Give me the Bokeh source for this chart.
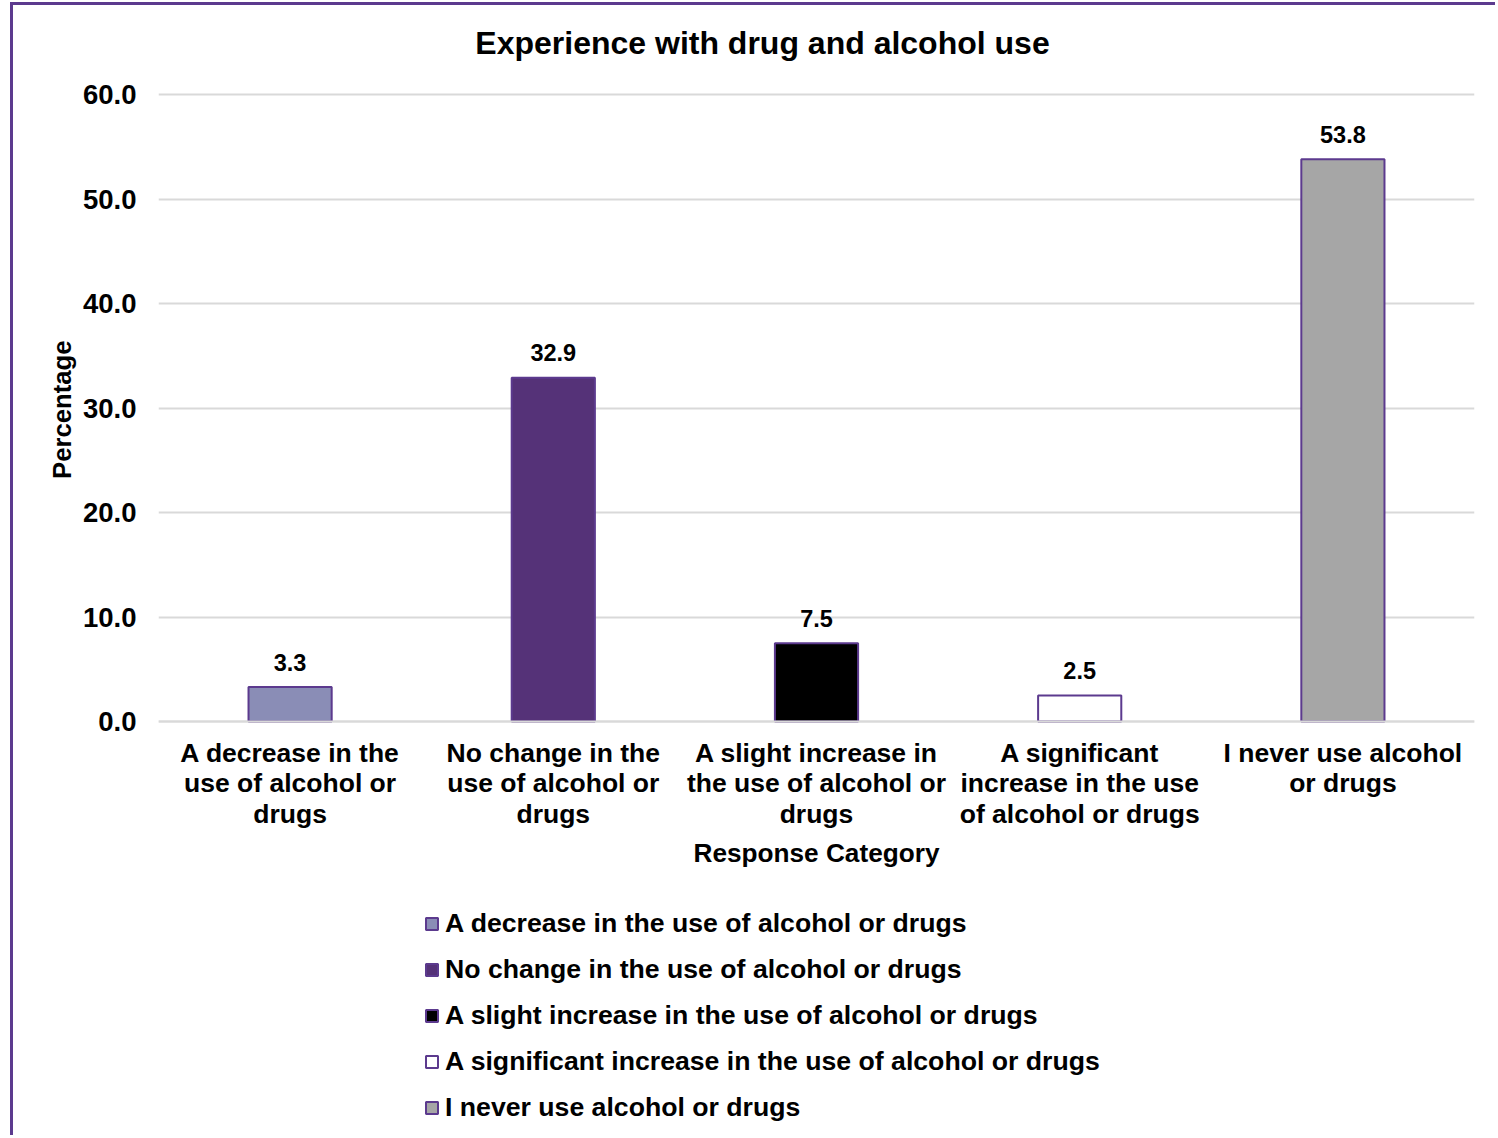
import math
from bokeh.plotting import figure
from bokeh.models import (FactorRange, Range1d, FixedTicker, PrintfTickFormatter,
                          Legend, LegendItem, ColumnDataSource, CategoricalAxis,
                          Label, Title)
from bokeh.embed import file_html
from bokeh.resources import INLINE
from bokeh.core.properties import value

# ---- data ----
categories = [
    "A decrease in the use of alcohol or drugs",
    "No change in the use of alcohol or drugs",
    "A slight increase in the use of alcohol or drugs",
    "A significant increase in the use of alcohol or drugs",
    "I never use alcohol or drugs",
]
wrapped_labels = [
    "A decrease in the\nuse of alcohol or\ndrugs",
    "No change in the\nuse of alcohol or\ndrugs",
    "A slight increase in\nthe use of alcohol or\ndrugs",
    "A significant\nincrease in the use\nof alcohol or drugs",
    "I never use alcohol\nor drugs",
]
percentages = [3.3, 32.9, 7.5, 2.5, 53.8]
fill_colors = ["#8a8db6", "#553278", "#000000", "#ffffff", "#a6a6a6"]
y_ticks = [0, 10, 20, 30, 40, 50, 60]
title_text = "Experience with drug and alcohol use"
y_label = "Percentage"
x_label = "Response Category"

FONT = "Liberation Sans"
OUTLINE = "#5c3a8e"

# ---- layout (pixels) ----
W, H = 1485, 1133
FRAME_LEFT, FRAME_RIGHT = 145, 24
TOP_60, BOTTOM_0 = 89, 716          # canvas y of value 60 and value 0
px_per_unit = (BOTTOM_0 - TOP_60) / 60.0
y_top = 60 + TOP_60 / px_per_unit
y_bottom = -(H - BOTTOM_0) / px_per_unit

p = figure(
    x_range=FactorRange(*wrapped_labels, range_padding=0),
    y_range=Range1d(y_bottom, y_top),
    width=W, height=H,
    output_backend="svg", toolbar_location=None,
    x_axis_location=None,
    min_border_left=FRAME_LEFT, min_border_right=FRAME_RIGHT,
    min_border_top=0, min_border_bottom=0,
)
p.styles = {"margin-left": "10px", "margin-top": "2px",
            "border-left": "3px solid #5c3a8e", "border-top": "3px solid #5c3a8e"}

p.outline_line_color = None
p.background_fill_color = "white"
p.border_fill_color = "white"

# grid
p.xgrid.grid_line_color = None
p.ygrid.grid_line_color = "#d9d9d9"
p.ygrid.grid_line_width = 2
p.yaxis.ticker = FixedTicker(ticks=y_ticks)
p.yaxis.formatter = PrintfTickFormatter(format="%.1f")

# y axis
p.yaxis.axis_line_color = None
p.yaxis.major_tick_line_color = None
p.yaxis.minor_tick_line_color = None
p.yaxis.major_label_text_font = FONT
p.yaxis.major_label_text_font_size = "27.5px"
p.yaxis.major_label_text_font_style = "bold"
p.yaxis.major_label_text_color = "black"
p.yaxis.major_label_standoff = 16

ytitle = Title(text=y_label, align="right", offset=335, standoff=8,
               text_font=FONT, text_font_size="25.7px", text_font_style="bold",
               text_color="black")
p.add_layout(ytitle, "left")

# x axis fixed at y = 0
xaxis = CategoricalAxis(fixed_location=0)
xaxis.axis_line_color = "#d9d9d9"
xaxis.axis_line_width = 2
xaxis.major_tick_line_color = None
xaxis.minor_tick_line_color = None
xaxis.major_label_text_font = FONT
xaxis.major_label_text_font_size = "26.5px"
xaxis.major_label_text_font_style = "bold"
xaxis.major_label_text_color = "black"
xaxis.major_label_text_line_height = 1.03
xaxis.major_label_standoff = 10
xaxis.axis_label = x_label
xaxis.axis_label_text_font = FONT
xaxis.axis_label_text_font_size = "26.2px"
xaxis.axis_label_text_font_style = "bold"
xaxis.axis_label_text_color = "black"
xaxis.axis_label_standoff = 6
p.add_layout(xaxis, "below")

# title
p.add_layout(Label(x=604, y=H - 37, x_units="screen", y_units="screen",
                   text=title_text, text_align="center", text_baseline="middle",
                   text_font=FONT, text_font_size="32px", text_font_style="bold",
                   text_color="black"))

# bars
items = []
for cat, lab, val, col in zip(categories, wrapped_labels, percentages, fill_colors):
    src = ColumnDataSource(dict(x=[lab], top=[val], label=[f"{val:.1f}"]))
    r = p.vbar(x="x", top="top", width=0.316, source=src,
               fill_color=col, line_color=OUTLINE, line_width=2)
    p.text(x="x", y="top", text="label", source=src,
           text_font=value(FONT), text_font_size="23.5px", text_font_style="bold",
           text_color="black", text_align="center", text_baseline="middle",
           y_offset=-25)
    items.append(LegendItem(label=cat, renderers=[r]))

legend = Legend(items=items, location=(266, 15), orientation="vertical",
                padding=0, margin=0, spacing=15,
                glyph_width=15, glyph_height=15, label_height=30,
                label_standoff=6,
                label_text_font=FONT, label_text_font_size="26.65px",
                label_text_font_style="bold", label_text_color="black",
                border_line_color=None, background_fill_alpha=0)
p.add_layout(legend, "center")

open("out.html", "w").write(file_html(p, INLINE))
